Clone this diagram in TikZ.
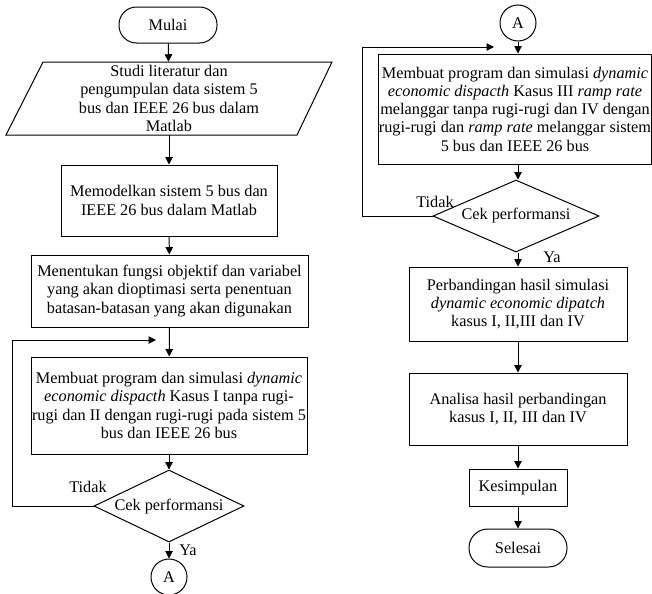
\documentclass[tikz,border=0pt]{standalone}
\usepackage{fontspec}
\setmainfont{Liberation Serif}
\usepackage{tikz}
\usetikzlibrary{shapes.geometric,arrows.meta}

\tikzset{
	alur/.style={-{Triangle[length=6pt,width=6pt]}, line width=0.8pt},
	proses/.style={draw, line width=0.8pt, align=center, inner sep=0pt},
	terminal/.style={draw, line width=0.8pt, rounded corners=14pt, inner sep=0pt, minimum width=78.4pt},
	cek/.style={draw, diamond, aspect=2, line width=0.8pt, inner sep=0pt},
	konektor/.style={draw, circle, line width=0.8pt, inner sep=0pt, minimum size=28.8pt},
	label/.style={inner sep=1pt}
}

\begin{document}
\begin{tikzpicture}[x=0.8pt, y=-0.8pt, font=\fontsize{13}{14.6}\selectfont]
		\useasboundingbox (0,0) rectangle (652,593);

		% kolom kiri
		\node[terminal, minimum height=28.8pt] (mulai) at (168,25) {Mulai};
		\draw[line width=0.8pt] (43,62) -- (332,62) -- (297,135) -- (6,135) -- cycle;
		\node[align=center, inner sep=0pt, minimum height=58.4pt] (studi) at (169,98.5) {Studi literatur dan\\pengumpulan data sistem 5\\bus dan IEEE 26 bus dalam\\Matlab};
		\node[proses, minimum width=172.8pt, minimum height=56.8pt] (model) at (169,200.5) {Memodelkan sistem 5 bus dan\\IEEE 26 bus dalam Matlab};
		\node[proses, minimum width=221.6pt, minimum height=57.6pt] (fungsi) at (169.5,291) {Menentukan fungsi objektif dan variabel\\yang akan dioptimasi serta penentuan\\batasan-batasan yang akan digunakan};
		\node[proses, minimum width=220.8pt, minimum height=77.6pt] (prog1) at (169,405.5) {Membuat program dan simulasi \textit{dynamic}\\\textit{economic dispacth} Kasus I tanpa rugi-\\rugi dan II dengan rugi-rugi pada sistem 5\\bus dan IEEE 26 bus};
		\node[cek, minimum width=120pt, minimum height=57.6pt] (cek1) at (169,506) {Cek performansi};
		\node[konektor] (a1) at (169,577) {A};
		\node[label] (tidak1) at (88,487) {Tidak};
		\node[label] (ya1) at (188,550) {Ya};

		\coordinate (balik1) at (12,340);
		\coordinate (masuk1) at (156,340);

		\draw[alur] (mulai) -- (studi);
		\draw[alur] (studi) -- (model);
		\draw[alur] (model) -- (fungsi);
		\draw[alur] (fungsi) -- (prog1);
		\draw[alur] (prog1) -- (cek1);
		\draw[alur] (cek1) -- (a1);
		\draw[alur] (cek1.west) -| (balik1) -- (masuk1);

		% kolom kanan
		\node[konektor] (a2) at (518,23) {A};
		\node[proses, minimum width=217.6pt, minimum height=88pt] (prog2) at (515,109) {Membuat program dan simulasi \textit{dynamic}\\\textit{economic dispacth} Kasus III \textit{ramp rate}\\melanggar tanpa rugi-rugi dan IV dengan\\rugi-rugi dan \textit{ramp rate} melanggar sistem\\5 bus dan IEEE 26 bus};
		\node[cek, minimum width=132.8pt, minimum height=57.6pt] (cek2) at (516,216) {Cek performansi};
		\node[proses, minimum width=174.4pt, minimum height=59.2pt] (banding) at (518,304) {Perbandingan hasil simulasi\\\textit{dynamic economic dipatch}\\kasus I, II,III dan IV};
		\node[proses, minimum width=174.4pt, minimum height=57.6pt] (analisa) at (518,409) {Analisa hasil perbandingan\\kasus I, II, III dan IV};
		\node[proses, minimum width=78.4pt, minimum height=29.6pt] (simpul) at (518,487.5) {Kesimpulan};
		\node[terminal, minimum height=30.4pt, rounded corners=15pt] (selesai) at (518,548) {Selesai};
		\node[label] (tidak2) at (435,202) {Tidak};
		\node[label] (ya2) at (552,257) {Ya};

		\coordinate (balik2) at (362,47);
		\coordinate (masuk2) at (494,47);

		\draw[alur] (a2) -- (a2 |- prog2.north);
		\draw[alur] (prog2.south -| a2) -- (cek2.north -| a2);
		\draw[alur] (cek2.south -| a2) -- (banding);
		\draw[alur] (banding) -- (analisa);
		\draw[alur] (analisa) -- (simpul);
		\draw[alur] (simpul) -- (selesai);
		\draw[alur] (cek2.west) -| (balik2) -- (masuk2);
\end{tikzpicture}
\end{document}
